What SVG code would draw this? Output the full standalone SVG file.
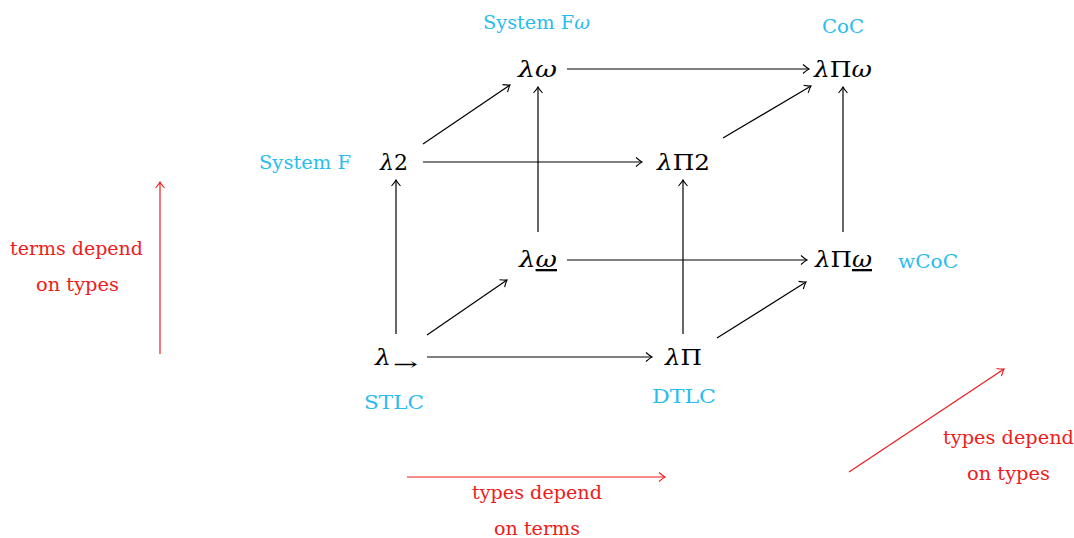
<svg xmlns="http://www.w3.org/2000/svg" width="1074" height="538" viewBox="0 0 1074 538">
<defs>
<style>
.m{font-family:"DejaVu Serif","Liberation Serif",serif;font-size:23px;fill:#000}
.i{font-style:italic}
.lb{font-family:"DejaVu Serif","Liberation Serif",serif;font-size:18px;fill:#29BDEF}
.rt{font-family:"DejaVu Serif","Liberation Serif",serif;font-size:18px;fill:#EE1C1C}
.c{stroke:#000;stroke-width:1.2;fill:none;marker-end:url(#ah)}
.r{stroke:#EE1C1C;stroke-width:1.2;fill:none;marker-end:url(#ahr)}
</style>
<marker id="ah" viewBox="-8 -6 10 12" markerWidth="10" markerHeight="12" refX="0" refY="0" orient="auto" markerUnits="userSpaceOnUse">
<path d="M-6,-4.5 Q-2,-1 0,0 Q-2,1 -6,4.5" fill="none" stroke="#000" stroke-width="1.1"/>
</marker>
<marker id="ahr" viewBox="-8 -6 10 12" markerWidth="10" markerHeight="12" refX="0" refY="0" orient="auto" markerUnits="userSpaceOnUse">
<path d="M-6,-4.5 Q-2,-1 0,0 Q-2,1 -6,4.5" fill="none" stroke="#EE1C1C" stroke-width="1.1"/>
</marker>
</defs>
<rect width="1074" height="538" fill="#fff"/>
<g id="connectors">
<line class="c" x1="567" y1="69" x2="809" y2="69"/>
<line class="c" x1="423" y1="144" x2="510" y2="85"/>
<line class="c" x1="423" y1="162" x2="642" y2="162"/>
<line class="c" x1="723" y1="138" x2="811" y2="86"/>
<line class="c" x1="538" y1="232" x2="538" y2="87"/>
<line class="c" x1="843" y1="232" x2="843" y2="87"/>
<line class="c" x1="396" y1="334" x2="396" y2="180"/>
<line class="c" x1="683" y1="334" x2="683" y2="180"/>
<line class="c" x1="567" y1="260" x2="807" y2="260"/>
<line class="c" x1="427" y1="335" x2="507" y2="280"/>
<line class="c" x1="427" y1="357" x2="652" y2="357"/>
<line class="c" x1="717" y1="338" x2="806" y2="282"/>
</g>
<g id="n-lw"><text class="m" x="518" y="77" textLength="39" lengthAdjust="spacingAndGlyphs"><tspan class="i">λω</tspan></text><text class="lb" x="483" y="29" textLength="107" lengthAdjust="spacingAndGlyphs">System F<tspan class="i">ω</tspan></text></g>
<g id="n-lPw"><text class="m" x="814" y="77" textLength="58" lengthAdjust="spacingAndGlyphs"><tspan class="i">λ</tspan>Π<tspan class="i">ω</tspan></text><text class="lb" x="822" y="33" textLength="42" lengthAdjust="spacingAndGlyphs">CoC</text></g>
<g id="n-l2"><text class="m" x="380" y="170" textLength="28" lengthAdjust="spacingAndGlyphs"><tspan class="i">λ</tspan>2</text><text class="lb" x="259" y="169" textLength="92" lengthAdjust="spacingAndGlyphs">System F</text></g>
<g id="n-lP2"><text class="m" x="657" y="170" textLength="53" lengthAdjust="spacingAndGlyphs"><tspan class="i">λ</tspan>Π2</text></g>
<g id="n-lwu"><text class="m" x="519" y="267" textLength="38" lengthAdjust="spacingAndGlyphs"><tspan class="i">λ</tspan><tspan class="i" text-decoration="underline">ω</tspan></text></g>
<g id="n-lPwu"><text class="m" x="815" y="267" textLength="57" lengthAdjust="spacingAndGlyphs"><tspan class="i">λ</tspan>Π<tspan class="i" text-decoration="underline">ω</tspan></text><text class="lb" x="898" y="268" textLength="60" lengthAdjust="spacingAndGlyphs">wCoC</text></g>
<g id="n-lto"><text class="m i" x="375" y="365" textLength="16" lengthAdjust="spacingAndGlyphs">λ</text><text x="393" y="370" textLength="25" lengthAdjust="spacingAndGlyphs" style="font-family:'DejaVu Serif',serif;font-size:17px">→</text><text class="lb" x="364" y="409" textLength="60" lengthAdjust="spacingAndGlyphs">STLC</text></g>
<g id="n-lP"><text class="m" x="665" y="365" textLength="37" lengthAdjust="spacingAndGlyphs"><tspan class="i">λ</tspan>Π</text><text class="lb" x="652" y="403" textLength="64" lengthAdjust="spacingAndGlyphs">DTLC</text></g>
<g id="legend">
<line class="r" x1="160" y1="354" x2="160" y2="182"/>
<text class="rt" x="10" y="255" textLength="133" lengthAdjust="spacingAndGlyphs">terms depend</text>
<text class="rt" x="36" y="291" textLength="83" lengthAdjust="spacingAndGlyphs">on types</text>
<line class="r" x1="407" y1="477" x2="665" y2="477"/>
<text class="rt" x="472" y="499" textLength="130" lengthAdjust="spacingAndGlyphs">types depend</text>
<text class="rt" x="494" y="535" textLength="86" lengthAdjust="spacingAndGlyphs">on terms</text>
<line class="r" x1="849" y1="472" x2="1004" y2="369"/>
<text class="rt" x="943" y="444" textLength="131" lengthAdjust="spacingAndGlyphs">types depend</text>
<text class="rt" x="967" y="480" textLength="83" lengthAdjust="spacingAndGlyphs">on types</text>
</g>
</svg>
